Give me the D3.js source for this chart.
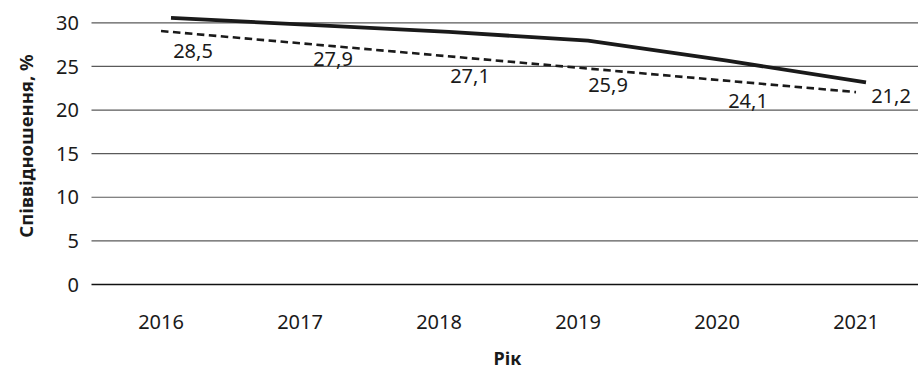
<!DOCTYPE html>
<html>
<head>
<meta charset="utf-8">
<script src="https://cdn.jsdelivr.net/npm/d3@7"></script>
<style>
  html, body { margin: 0; padding: 0; background: #fff; }
  svg { display: block; }
  text { font-family: "Noto Sans", "Open Sans", sans-serif; fill: #1a1a1a; }
</style>
</head>
<body>
<svg id="chart" width="918" height="371"></svg>
<script>
// Years on the horizontal axis
const years = ["2016", "2017", "2018", "2019", "2020", "2021"];
// Solid series, %
const ratioValues = [30.5, 29.7, 28.9, 27.9, 25.6, 23.1];
// Labelled series, % (shown as value labels)
const labelValues = [28.5, 27.9, 27.1, 25.9, 24.1, 21.2];
// Straight dashed trend, % at first and last year
const trendYears = ["2016", "2021"];
const trendValues = [29.0, 22.0];
// Y axis ticks
const yTicks = [0, 5, 10, 15, 20, 25, 30];

const svg = d3.select("#chart");
const plot = { left: 91.5, right: 925.5, top: 22.3, bottom: 284 };

const x = d3.scaleBand().domain(years).range([plot.left, plot.right]);
const xc = d => x(d) + x.bandwidth() / 2;
const y = d3.scaleLinear().domain([0, 30]).range([plot.bottom, plot.top]);

// Horizontal gridlines and y labels
const yAxis = d3.axisLeft(y).tickValues(yTicks).tickSize(-(plot.right - plot.left)).tickPadding(12).tickFormat(d3.format("d"));
const gy = svg.append("g").attr("transform", `translate(${plot.left},0)`).call(yAxis);
gy.select(".domain").remove();
gy.selectAll(".tick line").attr("stroke", d => d === 0 ? "#111" : "#5a5a5a").attr("stroke-width", d => d === 0 ? 1.4 : 1.2);
gy.selectAll(".tick text").attr("font-size", 20).attr("fill", "#1a1a1a").attr("x", -12.5).attr("dy", "0.36em");

// X labels
const xAxis = d3.axisBottom(x).tickSize(0).tickPadding(0);
const gx = svg.append("g").attr("transform", `translate(0,${plot.bottom})`).call(xAxis);
gx.select(".domain").remove();
gx.selectAll(".tick text").attr("font-size", 20).attr("fill", "#1a1a1a").attr("dy", null).attr("y", 45);

// Dashed trend
const trendLine = d3.line().x((d, i) => xc(trendYears[i])).y(d => y(d));
svg.append("path")
  .datum(trendValues)
  .attr("d", trendLine)
  .attr("fill", "none")
  .attr("stroke", "#1a1a1a")
  .attr("stroke-width", 2.6)
  .attr("stroke-dasharray", "7.5,4.5");

// Solid series (drawn with a small rightward shift)
const line = d3.line().x((d, i) => xc(years[i])).y(d => y(d));
svg.append("path")
  .datum(ratioValues)
  .attr("d", line)
  .attr("transform", "translate(10,0)")
  .attr("fill", "none")
  .attr("stroke", "#1a1a1a")
  .attr("stroke-width", 3.8)
  .attr("stroke-linejoin", "round");

// Value labels, placed below-right of each point
const labelDy = [23, 25.5, 35.5, 33.5, 34, 3.6];
const labelDx = [32, 33, 31, 30, 31, 35];
svg.append("g").selectAll("text")
  .data(labelValues)
  .join("text")
  .attr("x", (d, i) => xc(years[i]) + labelDx[i])
  .attr("y", (d, i) => y(d) + labelDy[i])
  .attr("text-anchor", "middle")
  .attr("font-size", 20)
  .text(d => d3.format(".1f")(d).replace(".", ","));

// Axis titles
svg.append("text")
  .attr("transform", "translate(33,146) rotate(-90)")
  .attr("text-anchor", "middle")
  .attr("font-size", 18.5)
  .attr("font-weight", "bold")
  .text("Співвідношення, %");

svg.append("text")
  .attr("x", 507.5)
  .attr("y", 365)
  .attr("text-anchor", "middle")
  .attr("font-size", 18)
  .attr("font-weight", "bold")
  .text("Рік");
</script>
</body>
</html>
